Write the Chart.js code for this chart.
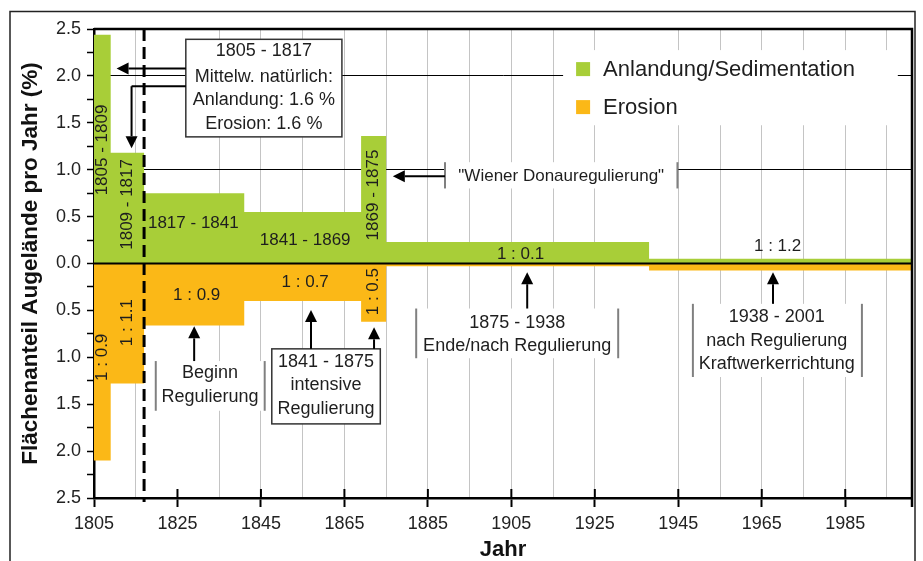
<!DOCTYPE html>
<html>
<head>
<meta charset="utf-8">
<script src="https://cdn.jsdelivr.net/npm/chart.js@4.4.1/dist/chart.umd.min.js"></script>
<style>
  html, body { margin: 0; padding: 0; background: #fff; }
  #wrap { width: 923px; height: 561px; }
</style>
</head>
<body>
<div id="wrap"><canvas id="chart" width="923" height="561"></canvas></div>
<script>
// start year of each period, the last period runs to periodEnd
const periodStart = [1805, 1809, 1817, 1841, 1869, 1875, 1938];
const periodEnd = 2001;
// share of floodplain area per year (%)
const sedimentation = [2.44, 1.18, 0.75, 0.55, 1.36, 0.23, 0.05];
const erosion = [2.10, 1.28, 0.66, 0.40, 0.62, 0.03, 0.075];

const xGridYears = [1805, 1815, 1825, 1835, 1845, 1855, 1865, 1875, 1885, 1895,
  1905, 1915, 1925, 1935, 1945, 1955, 1965, 1975, 1985, 1995];
const xTickLabels = [1805, 1825, 1845, 1865, 1885, 1905, 1925, 1945, 1965, 1985];
const xNoGrid = [1805, 1825, 1935];
const yGridBlack = [1, 2];

// text inside the bars: [text, year, value, rotated]
const barLabels = [
  ['1805 - 1809', 1807, 1.21, true],
  ['1809 - 1817', 1813, 0.63, true],
  ['1817 - 1841', 1828.8, 0.43, false],
  ['1841 - 1869', 1855.6, 0.245, false],
  ['1869 - 1875', 1872, 0.73, true],
  ['1 : 0.1', 1907.2, 0.10, false],
  ['1 : 1.2', 1968.8, 0.18, false],
  ['1 : 0.9', 1807, -1.0, true],
  ['1 : 1.1', 1813, -0.63, true],
  ['1 : 0.9', 1829.6, -0.335, false],
  ['1 : 0.7', 1855.6, -0.2, false],
  ['1 : 0.5', 1872, -0.3, true]
];

const GREEN = '#a8ce38';
const ORANGE = '#fbb817';
const FONT = '"Liberation Sans", Arial, sans-serif';

function stepPoints(values, sign) {
  const pts = periodStart.map((x, i) => ({x: x, y: sign * values[i]}));
  pts.push({x: periodEnd, y: sign * values[values.length - 1]});
  return pts;
}

function arrow(ctx, x1, y1, x2, y2) {
  const ang = Math.atan2(y2 - y1, x2 - x1);
  const len = 12, hw = 6;
  const bx = x2 - Math.cos(ang) * len, by = y2 - Math.sin(ang) * len;
  ctx.beginPath();
  ctx.moveTo(x1, y1);
  ctx.lineTo(bx, by);
  ctx.stroke();
  ctx.beginPath();
  ctx.moveTo(x2, y2);
  ctx.lineTo(bx - Math.sin(ang) * hw, by + Math.cos(ang) * hw);
  ctx.lineTo(bx + Math.sin(ang) * hw, by - Math.cos(ang) * hw);
  ctx.closePath();
  ctx.fill();
}

function lines(ctx, arr, x, ys) {
  arr.forEach((t, i) => ctx.fillText(t, x, ys[i]));
}

function grayBar(ctx, x, y1, y2) {
  ctx.strokeStyle = '#808080';
  ctx.lineWidth = 2;
  ctx.beginPath();
  ctx.moveTo(x, y1);
  ctx.lineTo(x, y2);
  ctx.stroke();
}

const overlay = {
  id: 'overlay',
  afterDatasetsDraw(chart) {
    const {ctx, chartArea: a} = chart;
    const X = v => chart.scales.x.getPixelForValue(v);
    const Y = v => chart.scales.y.getPixelForValue(v);
    ctx.save();

    // zero line
    ctx.strokeStyle = '#000';
    ctx.lineWidth = 2;
    ctx.beginPath();
    ctx.moveTo(a.left, Y(0));
    ctx.lineTo(a.right, Y(0));
    ctx.stroke();

    // labels inside bars
    ctx.fillStyle = '#1e1e1e';
    ctx.font = '17px ' + FONT;
    ctx.textAlign = 'center';
    ctx.textBaseline = 'middle';
    barLabels.forEach(([t, x, y, rot]) => {
      ctx.save();
      ctx.translate(X(x), Y(y));
      if (rot) ctx.rotate(-Math.PI / 2);
      ctx.fillText(t, 0, 0);
      ctx.restore();
    });

    // dashed line at 1817
    ctx.save();
    ctx.setLineDash([12, 6]);
    ctx.lineWidth = 3;
    ctx.beginPath();
    ctx.moveTo(X(1817), a.top);
    ctx.lineTo(X(1817), a.bottom + 4);
    ctx.stroke();
    ctx.restore();

    ctx.font = '18px ' + FONT;

    // box 1805 - 1817
    const bx1 = X(1827), bx2 = X(1864.4), by1 = Y(2.39), by2 = Y(1.35);
    ctx.fillStyle = '#fff';
    ctx.fillRect(bx1, by1, bx2 - bx1, by2 - by1);
    ctx.strokeStyle = '#333';
    ctx.lineWidth = 1.5;
    ctx.strokeRect(bx1, by1, bx2 - bx1, by2 - by1);
    ctx.fillStyle = '#1e1e1e';
    lines(ctx, ['1805 - 1817', 'Mittelw. natürlich:', 'Anlandung: 1.6 %', 'Erosion: 1.6 %'],
      (bx1 + bx2) / 2, [Y(2.26), Y(1.99), Y(1.74), Y(1.49)]);
    ctx.strokeStyle = '#000';
    ctx.fillStyle = '#000';
    ctx.lineWidth = 2;
    arrow(ctx, bx1, Y(2.08), X(1810.4), Y(2.08));
    ctx.beginPath();
    ctx.moveTo(bx1, Y(1.89));
    ctx.lineTo(X(1814), Y(1.89));
    ctx.stroke();
    arrow(ctx, X(1814), Y(1.89), X(1814), Y(1.23));

    // "Wiener Donauregulierung"
    const wl = X(1889.1), wr = X(1944.8);
    ctx.fillStyle = '#fff';
    ctx.fillRect(wl, Y(1.08), wr - wl, Y(0.8) - Y(1.08));
    grayBar(ctx, wl, Y(1.08), Y(0.8));
    grayBar(ctx, wr, Y(1.08), Y(0.8));
    ctx.strokeStyle = '#000';
    ctx.fillStyle = '#000';
    ctx.lineWidth = 2;
    arrow(ctx, wl, Y(0.93), X(1876.6), Y(0.93));
    ctx.fillStyle = '#1e1e1e';
    ctx.font = '17px ' + FONT;
    ctx.fillText('"Wiener Donauregulierung"', (wl + wr) / 2, Y(0.93));
    ctx.font = '18px ' + FONT;

    // callouts below zero
    const callouts = [
      {l: 1819.8, r: 1845.9, top: -1.04, bot: -1.57, cx: 1832.8,
        text: ['Beginn', 'Regulierung'], ys: [-1.17, -1.42], arrows: [[1829, -1.04, -0.67]]},
      {l: 1882.2, r: 1930.6, top: -0.48, bot: -1.01, cx: 1906.4,
        text: ['1875 - 1938', 'Ende/nach Regulierung'], ys: [-0.63, -0.876], arrows: [[1908.8, -0.48, -0.093]]},
      {l: 1948.5, r: 1989.0, top: -0.43, bot: -1.21, cx: 1968.6,
        text: ['1938 - 2001', 'nach Regulierung', 'Kraftwerkerrichtung'], ys: [-0.574, -0.823, -1.07],
        arrows: [[1967.7, -0.43, -0.093]]}
    ];
    callouts.forEach(c => {
      ctx.fillStyle = '#fff';
      ctx.fillRect(X(c.l), Y(c.top), X(c.r) - X(c.l), Y(c.bot) - Y(c.top));
      grayBar(ctx, X(c.l), Y(c.top), Y(c.bot));
      grayBar(ctx, X(c.r), Y(c.top), Y(c.bot));
      ctx.fillStyle = '#1e1e1e';
      lines(ctx, c.text, X(c.cx), c.ys.map(Y));
      ctx.strokeStyle = '#000';
      ctx.fillStyle = '#000';
      c.arrows.forEach(([x, y1, y2]) => arrow(ctx, X(x), Y(y1), X(x), Y(y2)));
    });

    // box 1841 - 1875
    const cx1 = X(1847.6), cx2 = X(1873.6), cy1 = Y(-0.91), cy2 = Y(-1.71);
    ctx.fillStyle = '#fff';
    ctx.fillRect(cx1, cy1, cx2 - cx1, cy2 - cy1);
    ctx.strokeStyle = '#333';
    ctx.lineWidth = 1.5;
    ctx.strokeRect(cx1, cy1, cx2 - cx1, cy2 - cy1);
    ctx.fillStyle = '#1e1e1e';
    lines(ctx, ['1841 - 1875', 'intensive', 'Regulierung'], (cx1 + cx2) / 2, [Y(-1.05), Y(-1.3), Y(-1.55)]);
    ctx.strokeStyle = '#000';
    ctx.fillStyle = '#000';
    ctx.lineWidth = 2;
    arrow(ctx, X(1857), cy1, X(1857), Y(-0.495));
    arrow(ctx, X(1872.1), cy1, X(1872.1), Y(-0.68));

    // legend
    const lx1 = X(1917.4), lx2 = X(1997.6), ly1 = Y(2.275), ly2 = Y(1.474);
    ctx.fillStyle = '#fff';
    ctx.fillRect(lx1, ly1, lx2 - lx1, ly2 - ly1);
    ctx.textAlign = 'left';
    ctx.font = '22px ' + FONT;
    chart.data.datasets.forEach((ds, i) => {
      const yc = ly1 + 19 + i * 38;
      ctx.fillStyle = ds.backgroundColor;
      ctx.fillRect(lx1 + 13, yc - 7, 14, 14);
      ctx.fillStyle = '#1e1e1e';
      ctx.fillText(ds.label, lx1 + 40, yc + 1);
    });

    ctx.restore();
  },
  afterDraw(chart) {
    const {ctx, chartArea: a} = chart;
    const X = v => chart.scales.x.getPixelForValue(v);
    ctx.save();
    // plot box top and right
    ctx.strokeStyle = '#000';
    ctx.lineWidth = 2.5;
    ctx.beginPath();
    ctx.moveTo(a.left, a.top);
    ctx.lineTo(a.right, a.top);
    ctx.lineTo(a.right, a.bottom + 9);
    ctx.stroke();
    // upward tick marks on x axis
    ctx.lineWidth = 2;
    xTickLabels.slice(1).forEach(v => {
      ctx.beginPath();
      ctx.moveTo(X(v), a.bottom);
      ctx.lineTo(X(v), a.bottom - 9);
      ctx.stroke();
    });
    // outer frame
    ctx.strokeStyle = '#222';
    ctx.lineWidth = 1.5;
    ctx.strokeRect(10, 11.5, 905, 600);
    ctx.restore();
  }
};

new Chart(document.getElementById('chart'), {
  type: 'line',
  data: {
    datasets: [{
      label: 'Anlandung/Sedimentation',
      data: stepPoints(sedimentation, 1),
      stepped: true,
      fill: 'origin',
      backgroundColor: GREEN,
      borderColor: 'rgba(0,0,0,0)',
      borderWidth: 0,
      pointRadius: 0
    }, {
      label: 'Erosion',
      data: stepPoints(erosion, -1),
      stepped: true,
      fill: 'origin',
      backgroundColor: ORANGE,
      borderColor: 'rgba(0,0,0,0)',
      borderWidth: 0,
      pointRadius: 0
    }]
  },
  options: {
    responsive: false,
    animation: false,
    layout: { padding: { top: 29, right: 11, left: 0, bottom: 0 } },
    plugins: { legend: { display: false }, tooltip: { enabled: false } },
    scales: {
      x: {
        type: 'linear',
        min: 1805,
        max: periodEnd,
        afterBuildTicks: s => { s.ticks = xGridYears.map(v => ({value: v})); },
        afterFit: s => { s.height = 63; },
        grid: {
          color: c => xNoGrid.includes(c.tick.value) ? 'rgba(0,0,0,0)' : '#c4c4c4',
          lineWidth: 1,
          tickLength: 9,
          tickWidth: 2,
          tickColor: c => xTickLabels.includes(c.tick.value) ? '#000' : 'rgba(0,0,0,0)'
        },
        border: { color: '#000', width: 2.5 },
        ticks: {
          autoSkip: false,
          maxRotation: 0,
          padding: 6,
          color: '#222',
          font: { family: FONT, size: 18 },
          callback: v => xTickLabels.includes(v) ? String(v) : ''
        },
        title: {
          display: true,
          text: 'Jahr',
          color: '#111',
          padding: 0,
          font: { family: FONT, size: 22, weight: 'bold', lineHeight: 1 }
        }
      },
      y: {
        min: -2.5,
        max: 2.5,
        afterFit: s => { s.width = 94; },
        grid: {
          color: c => yGridBlack.includes(c.tick.value) ? '#000' : 'rgba(0,0,0,0)',
          lineWidth: 1,
          tickLength: 7,
          tickWidth: 1.5,
          tickColor: '#000'
        },
        border: { color: '#000', width: 2.5 },
        ticks: {
          stepSize: 0.25,
          autoSkip: false,
          padding: 6,
          color: '#222',
          font: { family: FONT, size: 18 },
          callback: v => Number.isInteger(v * 2) ? Math.abs(v).toFixed(1) : ''
        },
        title: {
          display: true,
          text: 'Flächenanteil Augelände pro Jahr (%)',
          color: '#111',
          padding: { top: 20, bottom: 0 },
          font: { family: FONT, size: 22.5, weight: 'bold', lineHeight: 1 }
        }
      }
    }
  },
  plugins: [overlay]
});
</script>
</body>
</html>
